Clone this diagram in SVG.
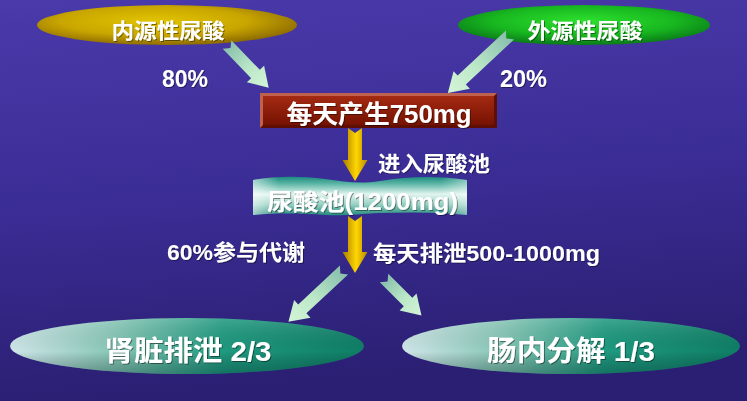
<svg xmlns="http://www.w3.org/2000/svg" width="747" height="401" viewBox="0 0 747 401">
<defs>
<linearGradient id="bg" x1="0" y1="0" x2="0.15" y2="1">
<stop offset="0" stop-color="#4a3aaa"/>
<stop offset="0.5" stop-color="#3b2d96"/>
<stop offset="1" stop-color="#2a1f72"/>
</linearGradient>
<radialGradient id="gold" cx="0.45" cy="0.4" r="0.6">
<stop offset="0" stop-color="#e2c400"/>
<stop offset="0.6" stop-color="#c9a600"/>
<stop offset="1" stop-color="#8e6c00"/>
</radialGradient>
<radialGradient id="green" cx="0.5" cy="0.4" r="0.6">
<stop offset="0" stop-color="#2ee02e"/>
<stop offset="0.6" stop-color="#18b820"/>
<stop offset="1" stop-color="#0a7a18"/>
</radialGradient>
<linearGradient id="teal" x1="0" y1="0" x2="1" y2="0">
<stop offset="0" stop-color="#cfe6e8"/>
<stop offset="0.3" stop-color="#86c6b6"/>
<stop offset="0.6" stop-color="#1f9a80"/>
<stop offset="1" stop-color="#0f7e66"/>
</linearGradient>
<linearGradient id="tealShade" x1="0" y1="0" x2="0" y2="1">
<stop offset="0" stop-color="#ffffff" stop-opacity="0.15"/>
<stop offset="0.6" stop-color="#000000" stop-opacity="0"/>
<stop offset="1" stop-color="#00302a" stop-opacity="0.35"/>
</linearGradient>
<linearGradient id="pool" x1="0" y1="0" x2="0" y2="1">
<stop offset="0" stop-color="#1c8a80"/>
<stop offset="0.18" stop-color="#5cb6a6"/>
<stop offset="0.45" stop-color="#e2f5ef"/>
<stop offset="0.72" stop-color="#96d0c2"/>
<stop offset="1" stop-color="#238a7e"/>
</linearGradient>
<linearGradient id="poolEdge" x1="0" y1="0" x2="1" y2="0">
<stop offset="0" stop-color="#ffffff" stop-opacity="0.55"/>
<stop offset="0.12" stop-color="#ffffff" stop-opacity="0"/>
<stop offset="0.88" stop-color="#ffffff" stop-opacity="0"/>
<stop offset="1" stop-color="#ffffff" stop-opacity="0.4"/>
</linearGradient>
<linearGradient id="boxIn" x1="0" y1="0" x2="0" y2="1">
<stop offset="0" stop-color="#a42a12"/>
<stop offset="1" stop-color="#761202"/>
</linearGradient>
<linearGradient id="goldArrow" x1="0" y1="0" x2="1" y2="0">
<stop offset="0" stop-color="#a87a00"/>
<stop offset="0.55" stop-color="#ffd600"/>
<stop offset="1" stop-color="#b88a00"/>
</linearGradient>
<linearGradient id="mint" x1="0" y1="0" x2="1" y2="0">
<stop offset="0" stop-color="#86beac"/>
<stop offset="0.55" stop-color="#bce8c8"/>
<stop offset="1" stop-color="#d4f4d8"/>
</linearGradient>
<filter id="sh" x="-10%" y="-20%" width="120%" height="150%">
<feDropShadow dx="1" dy="1" stdDeviation="0.6" flood-color="#000000" flood-opacity="0.45"/>
</filter>
</defs>
<style>
.t{font-family:"Liberation Sans","Noto Sans CJK SC",sans-serif;font-weight:bold;fill:#ffffff;filter:url(#sh);}
.mint{fill:url(#mint);}
.goldA{fill:url(#goldArrow);}
</style>
<rect x="0" y="0" width="747" height="401" fill="url(#bg)"/>

<g id="node-endogenous">
<ellipse cx="167" cy="25" rx="130" ry="20" fill="url(#gold)"/>
<text class="t" x="168" y="38" font-size="21" text-anchor="middle" textLength="113" lengthAdjust="spacingAndGlyphs">内源性尿酸</text>
</g>
<g id="node-exogenous">
<ellipse cx="584" cy="25" rx="126" ry="20" fill="url(#green)"/>
<text class="t" x="585" y="38" font-size="21" text-anchor="middle" textLength="115" lengthAdjust="spacingAndGlyphs">外源性尿酸</text>
</g>
<g id="node-daily">
<rect x="260" y="93" width="237" height="35" fill="#c0604e"/>
<polygon points="497,93 497,128 260,128 263,125 494,125 494,96" fill="#5e0e04"/>
<rect x="263" y="96" width="231" height="29" fill="url(#boxIn)"/>
<text class="t" x="379" y="123" font-size="25" text-anchor="middle" textLength="185" lengthAdjust="spacingAndGlyphs">每天产生750mg</text>
</g>
<g id="node-pool">
<path d="M253,180 C275,176 300,176 325,179 C345,182 360,184 380,181 C410,176 440,176 467,180 L467,215 C440,212 410,212 380,213 C360,214 345,216 325,215 C300,213 275,213 253,215 Z" fill="url(#pool)"/>
<path d="M253,180 C275,176 300,176 325,179 C345,182 360,184 380,181 C410,176 440,176 467,180 L467,215 C440,212 410,212 380,213 C360,214 345,216 325,215 C300,213 275,213 253,215 Z" fill="url(#poolEdge)"/>
<text class="t" x="267" y="210" font-size="23" textLength="191" lengthAdjust="spacingAndGlyphs">尿酸池(1200mg)</text>
</g>
<g id="node-kidney">
<ellipse cx="187" cy="346" rx="177" ry="28" fill="url(#teal)"/>
<ellipse cx="187" cy="346" rx="177" ry="28" fill="url(#tealShade)"/>
<text class="t" x="188" y="361" font-size="28" text-anchor="middle" textLength="167" lengthAdjust="spacingAndGlyphs">肾脏排泄 2/3</text>
</g>
<g id="node-intestine">
<ellipse cx="571" cy="346" rx="169" ry="28" fill="url(#teal)"/>
<ellipse cx="571" cy="346" rx="169" ry="28" fill="url(#tealShade)"/>
<text class="t" x="571" y="361" font-size="28" text-anchor="middle" textLength="168" lengthAdjust="spacingAndGlyphs">肠内分解 1/3</text>
</g>

<g id="connectors">
<path class="mint" transform="translate(227,44.5) rotate(46)" d="M0,-6 L41,-6 L41,-12 L60,0 L41,12 L41,6 L0,6 L5,0 Z"/>
<path class="mint" transform="translate(510,35) rotate(137)" d="M0,-6 L66,-6 L66,-12 L85,0 L66,12 L66,6 L0,6 L5,0 Z"/>
<path class="goldA" d="M348,128 L355,133 L362,128 L362,160 L367.5,160 L355,181 L342.5,160 L348,160 Z"/>
<path class="goldA" d="M348,216 L355,221 L362,216 L362,252 L367.5,252 L355,273 L342.5,252 L348,252 Z"/>
<path class="mint" transform="translate(344,270) rotate(137)" d="M0,-6 L57,-6 L57,-12 L76,0 L57,12 L57,6 L0,6 L5,0 Z"/>
<path class="mint" transform="translate(384,278) rotate(45)" d="M0,-6 L34,-6 L34,-12 L53,0 L34,12 L34,6 L0,6 L5,0 Z"/>
</g>

<g id="labels">
<text class="t" x="162" y="87" font-size="23" textLength="46" lengthAdjust="spacingAndGlyphs">80%</text>
<text class="t" x="500" y="87" font-size="23" textLength="47" lengthAdjust="spacingAndGlyphs">20%</text>
<text class="t" x="378" y="171" font-size="21" textLength="112" lengthAdjust="spacingAndGlyphs">进入尿酸池</text>
<text class="t" x="167" y="260" font-size="22" textLength="138" lengthAdjust="spacingAndGlyphs">60%参与代谢</text>
<text class="t" x="373" y="261" font-size="22" textLength="227" lengthAdjust="spacingAndGlyphs">每天排泄500-1000mg</text>
</g>
</svg>
